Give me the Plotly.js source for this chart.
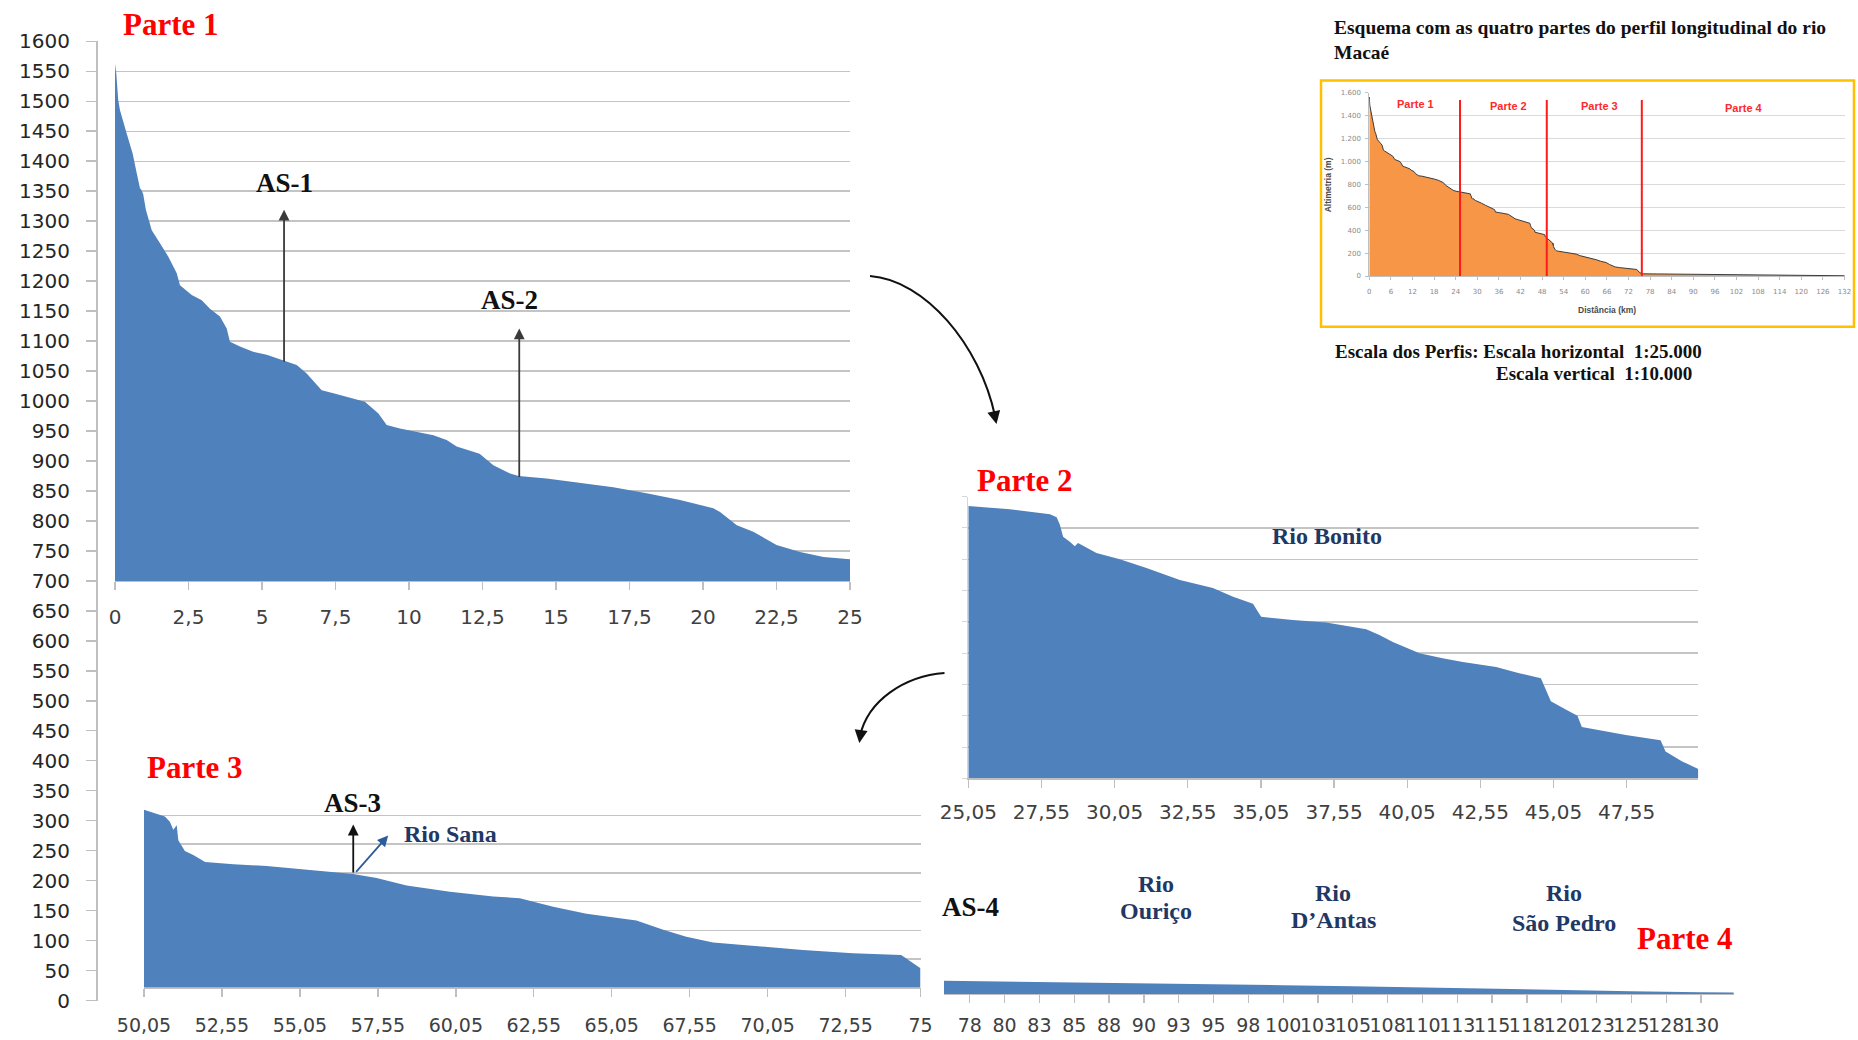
<!DOCTYPE html>
<html>
<head>
<meta charset="utf-8">
<script src="https://cdn.plot.ly/plotly-3.0.1.min.js"></script>
<style>html,body{margin:0;padding:0;background:#fff}#chart{width:1858px;height:1040px}</style>
</head>
<body>
<div id="chart"></div>
<script>
// ---------- data (distance km / altitude m) ----------
const p1Km  = [0,0.02,0.11,0.17,0.4,0.6,0.74,0.85,0.9,0.96,1.05,1.25,1.53,1.81,2.1,2.21,2.61,2.95,3.23,3.57,3.8,3.91,4.25,4.7,5.16,5.73,6.18,6.52,7.03,7.43,7.88,8.5,8.96,9.24,9.69,10.26,10.83,11.28,11.62,12.4,12.87,13.44,13.73,14.68,15.82,16.95,18.08,19.22,20.35,20.58,21.15,21.71,22.5,23.3,24.1,25];
const p1Alt = [1545,1562,1502,1485,1446,1413,1380,1355,1352,1345,1319,1285,1263,1241,1213,1193,1177,1168,1154,1141,1121,1099,1091,1082,1077,1068,1060,1046,1018,1013,1007,999,979,960,954,949,943,935,924,912,893,879,875,871,864,856,846,835,821,815,793,782,760,748,740,736];

const p2Km  = [25.05,26.47,27.84,28.07,28.18,28.29,28.52,28.69,28.8,29.43,30.23,31.14,32.28,33.41,34.1,34.78,34.95,35.06,36.14,37.28,38.65,39.1,39.56,40.47,41.26,41.95,43.09,43.88,44.62,44.79,44.96,45.47,45.87,46.02,47.06,47.52,48.71,48.88,49.45,50.0];
const p2Alt = [735,730,722,717,705,686,678,671,676,660,650,636,617,604,590,579,566,558,553,549,538,529,518,500,492,486,478,468,460,441,423,410,400,382,373,369,361,343,327,315];

const p3Km  = [50.05,50.72,50.88,50.99,51.1,51.15,51.36,51.63,52.01,52.92,53.98,55.05,56.12,56.76,57.51,58.47,59.86,61.25,62.1,63.17,64.24,65.84,66.7,67.44,68.3,69.58,71.18,72.78,74.33,74.95];
const p3Alt = [310,298,289,275,283,257,238,231,219,215,212,207,202,198,191,178,167,159,156,141,129,117,101,89,79,73,66,60,57,34];

const p4Km  = [75.7,80,85,90,95,100,105,110,115,120,125,130,132.4];
const p4Alt = [19,18,16.5,15,14,12.5,11,9,7.5,5.5,4,2.5,2];

// tick labels
const p1TickVals = [0,2.5,5,7.5,10,12.5,15,17.5,20,22.5,25];
const p1TickText = ['0','2,5','5','7,5','10','12,5','15','17,5','20','22,5','25'];
const p2TickVals = [25.05,27.55,30.05,32.55,35.05,37.55,40.05,42.55,45.05,47.55];
const p2TickText = ['25,05','27,55','30,05','32,55','35,05','37,55','40,05','42,55','45,05','47,55'];
const p3TickVals = [50.05,52.55,55.05,57.55,60.05,62.55,65.05,67.55,70.05,72.55,74.95];
const p3TickText = ['50,05','52,55','55,05','57,55','60,05','62,55','65,05','67,55','70,05','72,55','75'];
const p4TickVals = [77.55,80.05,82.55,85.05,87.55,90.05,92.55,95.05,97.55,100.05,102.55,105.05,107.55,110.05,112.55,115.05,117.55,120.05,122.55,125.05,127.55,130.05];
const p4TickText = ['78','80','83','85','88','90','93','95','98','100','103','105','108','110','113','115','118','120','123','125','128','130'];

// reference levels (dark lines) per panel
const p1Levels = [1350, 1050];
const p2Levels = [700];
const p3Levels = [200];

// arrows: [km, from altitude, to altitude] ; Rio Sana: [kmFrom, altFrom, kmTo, altTo]
const as1Arrow = [5.75, 1063, 1319];
const as2Arrow = [13.75, 871, 1121];
const as3Arrow = [56.76, 198, 284];
const sanaArrow = [56.81, 199, 57.88, 265];

// inset: boundaries of the four parts (km) and part labels
const insetBounds = [25.2, 49.3, 75.7];
const insetPartKm = [12.8, 38.8, 64.0, 104.1];
const insetPartAlt = [1503, 1482, 1482, 1468];
const partNames = ['Parte 1','Parte 2','Parte 3','Parte 4'];

// ---------- helpers ----------
const W = 1858, H = 1040;
const px = v => v / W;
const py = v => 1 - v / H;

const blue = '#4f81bd';
const gridC = '#c4c4c4';
const darkC = '#5a5a5a';
const axC = '#bfbfbf';
const serif = 'Liberation Serif, Times New Roman, serif';
const sans = 'DejaVu Sans, sans-serif';

function area(x, y, xa, ya) {
  return {x: x, y: y, xaxis: xa, yaxis: ya, type: 'scatter', mode: 'lines',
    fill: 'tozeroy', fillcolor: blue, line: {width: 0, color: blue}, hoverinfo: 'skip'};
}

const insetKm = p1Km.concat(p2Km, p3Km, p4Km);
const insetAlt = p1Alt.concat(p2Alt, p3Alt, p4Alt);

const data = [
  {x: [null], y: [null], xaxis: 'x', yaxis: 'y', type: 'scatter', mode: 'lines', hoverinfo: 'skip'},
  area(p1Km, p1Alt, 'x', 'y2'),
  area(p2Km, p2Alt, 'x2', 'y3'),
  area(p3Km, p3Alt, 'x3', 'y4'),
  area(p4Km, p4Alt, 'x4', 'y5'),
  {x: insetKm, y: insetAlt, xaxis: 'x5', yaxis: 'y6', type: 'scatter', mode: 'lines',
    fill: 'tozeroy', fillcolor: '#f79646', line: {width: 1, color: '#3c3c3c'}, hoverinfo: 'skip'}
];

function xAx(dom, range, anchor, vals, text, standoff, fsize) {
  return {domain: dom, range: range, anchor: anchor, tickmode: 'array', tickvals: vals, ticktext: text,
    showgrid: false, zeroline: false, showline: true, linecolor: axC, linewidth: 1.3,
    ticks: 'outside', ticklen: 8, tickcolor: axC, tickwidth: 1.3, tickangle: 0,
    tickfont: {family: sans, size: fsize, color: '#404040'}, ticklabelstandoff: standoff, fixedrange: true};
}
function yPanel(dom, range, anchor, extra) {
  return Object.assign({domain: dom, range: range, anchor: anchor, dtick: 50, tick0: 0,
    showgrid: true, gridcolor: gridC, gridwidth: 1.4, showticklabels: false, zeroline: false,
    showline: false, ticks: '', fixedrange: true}, extra || {});
}

const layout = {
  width: W, height: H, margin: {l: 0, r: 0, t: 0, b: 0},
  paper_bgcolor: '#ffffff', plot_bgcolor: 'rgba(0,0,0,0)',
  separators: ',.', showlegend: false, hovermode: false,
  font: {family: sans, color: '#333'},
  // main altitude axis
  yaxis: {range: [0, 1600], domain: [py(1000.5), py(41.3)], anchor: 'free', position: px(96), side: 'left',
    dtick: 50, tick0: 0, showgrid: false, zeroline: false, showline: true, linecolor: axC, linewidth: 1.5,
    ticks: 'outside', ticklen: 10, tickcolor: axC, tickwidth: 1.5,
    tickfont: {family: sans, size: 20, color: '#262626'}, ticklabelstandoff: 12, fixedrange: true},
  // Parte 1
  xaxis: xAx([px(115), px(850)], [0, 25], 'y2', p1TickVals, p1TickText, 10, 20),
  yaxis2: yPanel([py(580.9), py(41.3)], [700, 1600], 'x'),
  // Parte 2
  xaxis2: xAx([px(968.3), px(1698.3)], [25.05, 50.0], 'y3', p2TickVals, p2TickText, 7, 20),
  yaxis3: yPanel([py(778.3), py(496.7)], [300, 750], 'x2',
    {showline: true, linecolor: '#d6d6d6', ticks: 'outside', ticklen: 5, tickcolor: '#d6d6d6'}),
  // Parte 3
  xaxis3: xAx([px(144), px(920.5)], [50.05, 74.95], 'y4', p3TickVals, p3TickText, 12, 19),
  yaxis4: yPanel([py(987.8), py(786.7)], [0, 350], 'x3'),
  // Parte 4
  xaxis4: xAx([px(944), px(1733.8)], [75.7, 132.4], 'y5', p4TickVals, p4TickText, 6, 19),
  yaxis5: yPanel([py(994), py(959)], [0, 50], 'x4'),
  // inset
  xaxis5: {domain: [px(1369.3), px(1844.5)], range: [0, 132], anchor: 'y6', dtick: 6, tick0: 0,
    showgrid: false, zeroline: false, showline: true, linecolor: '#bfbfbf', ticks: 'outside', ticklen: 3,
    tickcolor: '#bfbfbf', tickangle: 0, tickfont: {family: sans, size: 7, color: '#8a8a8a'},
    ticklabelstandoff: 6, fixedrange: true},
  yaxis6: {domain: [py(276), py(92.7)], range: [0, 1600], anchor: 'x5', dtick: 200, tick0: 0,
    separatethousands: true, showgrid: true, gridcolor: '#dadada', gridwidth: 1, zeroline: false,
    showline: true, linecolor: '#bfbfbf', ticks: 'outside', ticklen: 3, tickcolor: '#bfbfbf',
    tickfont: {family: sans, size: 7, color: '#8a8a8a'}, ticklabelstandoff: 3, fixedrange: true},
  shapes: [],
  annotations: []
};

// dark reference lines
p1Levels.forEach(v => layout.shapes.push({type: 'line', xref: 'x domain', x0: 0, x1: 1, yref: 'y2', y0: v, y1: v, layer: 'below', line: {color: darkC, width: 1.8}}));
p2Levels.forEach(v => layout.shapes.push({type: 'line', xref: 'x2 domain', x0: 0, x1: 1, yref: 'y3', y0: v, y1: v, layer: 'below', line: {color: darkC, width: 1.8}}));
p3Levels.forEach(v => layout.shapes.push({type: 'line', xref: 'x3 domain', x0: 0, x1: 1, yref: 'y4', y0: v, y1: v, layer: 'below', line: {color: darkC, width: 1.8}}));

// inset boundaries and frame
insetBounds.forEach(b => layout.shapes.push({type: 'line', xref: 'x5', yref: 'y6', x0: b, x1: b, y0: 0, y1: 1536, line: {color: '#ff1a1a', width: 2}}));
layout.shapes.push({type: 'rect', xref: 'paper', yref: 'paper', x0: px(1321), x1: px(1854), y0: py(326.7), y1: py(80.5), line: {color: '#ffc000', width: 2.5}});

// curved connector arrows
layout.shapes.push({type: 'path', xref: 'paper', yref: 'paper',
  path: `M ${px(870)},${py(276)} C ${px(925)},${py(280)} ${px(980)},${py(345)} ${px(995)},${py(416)}`,
  line: {color: '#111', width: 2}});
layout.shapes.push({type: 'path', xref: 'paper', yref: 'paper',
  path: `M ${px(944.5)},${py(673)} C ${px(905)},${py(676)} ${px(868)},${py(700)} ${px(860)},${py(736)}`,
  line: {color: '#111', width: 2}});
layout.annotations.push({xref: 'paper', yref: 'paper', x: px(996.5), y: py(424), ax: -3, ay: -14, text: '', showarrow: true, arrowhead: 2, arrowsize: 1.3, arrowwidth: 2, arrowcolor: '#111', standoff: 0});
layout.annotations.push({xref: 'paper', yref: 'paper', x: px(859.3), y: py(743), ax: 2, ay: -14, text: '', showarrow: true, arrowhead: 2, arrowsize: 1.3, arrowwidth: 2, arrowcolor: '#111', standoff: 0});

// AS arrows
function vArrow(a, xr, yr, color) {
  return {xref: xr, yref: yr, x: a[0], y: a[2], axref: xr, ayref: yr, ax: a[0], ay: a[1], text: '',
    showarrow: true, arrowhead: 2, arrowsize: 1.2, arrowwidth: 1.8, arrowcolor: color, standoff: 0};
}
layout.annotations.push(vArrow(as1Arrow, 'x', 'y2', '#3a3a3a'));
layout.annotations.push(vArrow(as2Arrow, 'x', 'y2', '#3a3a3a'));
layout.annotations.push(vArrow(as3Arrow, 'x3', 'y4', '#111'));
layout.annotations.push({xref: 'x3', yref: 'y4', x: sanaArrow[2], y: sanaArrow[3], axref: 'x3', ayref: 'y4', ax: sanaArrow[0], ay: sanaArrow[1], text: '', showarrow: true, arrowhead: 2, arrowsize: 1.2, arrowwidth: 1.8, arrowcolor: '#2e5c9a', standoff: 0});

// text labels
function label(text, x, y, size, color, anchor, family) {
  return {xref: 'paper', yref: 'paper', x: px(x), y: py(y), text: text, showarrow: false,
    xanchor: anchor || 'center', yanchor: 'middle', font: {family: family || serif, size: size, color: color}};
}
const red = '#ff0000', navy = '#1f3864';
layout.annotations.push(label('<b>' + partNames[0] + '</b>', 121, 24.5, 31, red, 'left'));
layout.annotations.push(label('<b>' + partNames[1] + '</b>', 975, 480, 31, red, 'left'));
layout.annotations.push(label('<b>' + partNames[2] + '</b>', 145, 767.5, 31, red, 'left'));
layout.annotations.push(label('<b>' + partNames[3] + '</b>', 1634.5, 938.3, 31, red, 'left'));
layout.annotations.push(label('<b>AS-1</b>', 284.7, 182.7, 27, '#111'));
layout.annotations.push(label('<b>AS-2</b>', 509.5, 300, 27, '#111'));
layout.annotations.push(label('<b>AS-3</b>', 352.5, 803.3, 27, '#111'));
layout.annotations.push(label('<b>AS-4</b>', 970, 907, 27, '#111'));
layout.annotations.push(label('<b>Rio Bonito</b>', 1326.7, 536, 24, navy));
layout.annotations.push(label('<b>Rio Sana</b>', 450.8, 834, 24, navy));
layout.annotations.push(label('<b>Rio</b>', 1156, 884, 24, navy));
layout.annotations.push(label('<b>Ouriço</b>', 1156, 911, 24, navy));
layout.annotations.push(label('<b>Rio</b>', 1333, 893, 24, navy));
layout.annotations.push(label('<b>D’Antas</b>', 1333, 920, 24, navy));
layout.annotations.push(label('<b>Rio</b>', 1564, 893, 24, navy));
layout.annotations.push(label('<b>São Pedro</b>', 1564, 922.5, 24, navy));

// inset texts
layout.annotations.push(label('<b>Esquema com as quatro partes do perfil longitudinal do rio</b>', 1332, 27, 19.5, '#111', 'left'));
layout.annotations.push(label('<b>Macaé</b>', 1332, 52, 19.5, '#111', 'left'));
layout.annotations.push(label('<b>Escala dos Perfis: Escala horizontal \u00a01:25.000</b>', 1333, 351.7, 19, '#111', 'left'));
layout.annotations.push(label('<b>Escala vertical \u00a01:10.000</b>', 1494, 373.3, 19, '#111', 'left'));
layout.annotations.push(Object.assign(label('<b>Altimetria (m)</b>', 1328.3, 185, 8.5, '#4a4a4a', 'center', 'Liberation Sans, Arial, sans-serif'), {textangle: -90}));
layout.annotations.push(label('<b>Distância (km)</b>', 1606.7, 310, 8.5, '#4a4a4a', 'center', 'Liberation Sans, Arial, sans-serif'));
partNames.forEach((n, i) => layout.annotations.push({xref: 'x5', yref: 'y6', x: insetPartKm[i], y: insetPartAlt[i], text: '<b>' + n + '</b>', showarrow: false, xanchor: 'center', yanchor: 'middle', font: {family: 'Liberation Sans, Arial, sans-serif', size: 11, color: '#ff2a2a'}}));

Plotly.newPlot('chart', data, layout, {staticPlot: true, displayModeBar: false});
</script>
</body>
</html>
